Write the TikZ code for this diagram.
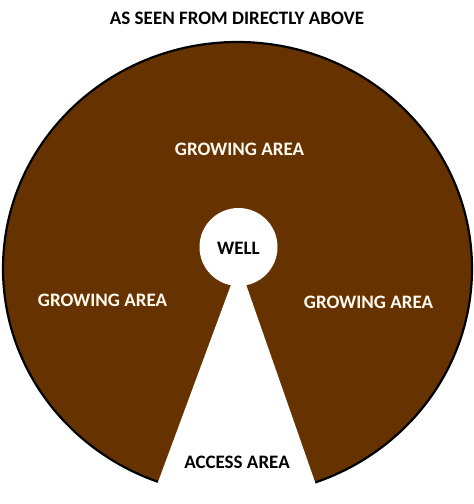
\documentclass[tikz,border=0pt]{standalone}
\usepackage{fontspec}
\setmainfont{Carlito}
\definecolor{soil}{HTML}{663300}
\definecolor{cream}{HTML}{FFFAF0}
\begin{document}
\begin{tikzpicture}[x=1pt,y=-1pt,
  lbl/.style={font=\bfseries\fontsize{19}{21}\selectfont, inner sep=0pt},
  arealbl/.style={lbl, text=cream}]
\useasboundingbox (0,0) rectangle (474,504);
% growing field
\fill[soil] (237.5,268.6) ellipse [x radius=234.5, y radius=226.6];
\draw[line width=2.2pt, black] (237.5,268.6) ellipse [x radius=234.5, y radius=226.6];
% access wedge
\coordinate (apex) at (238.8,263.7);
\coordinate (wl) at (149.9,504);
\coordinate (wr) at (322.7,504);
\fill[white] (apex) -- (wl) -- (wr) -- cycle;
% well
\node[circle, fill=white, minimum size=78pt, inner sep=0pt] (wellc) at (238.5,247) {};
\node[lbl] (well) at (238.5,248) {WELL};
\node[lbl] (title) at (237,18) {AS SEEN FROM DIRECTLY ABOVE};
\node[arealbl] (gtop) at (239.5,149) {GROWING AREA};
\node[arealbl] (gleft) at (102.5,300) {GROWING AREA};
\node[arealbl] (gright) at (368.5,302) {GROWING AREA};
\node[lbl] (access) at (237,462) {ACCESS AREA};
\end{tikzpicture}
\end{document}
